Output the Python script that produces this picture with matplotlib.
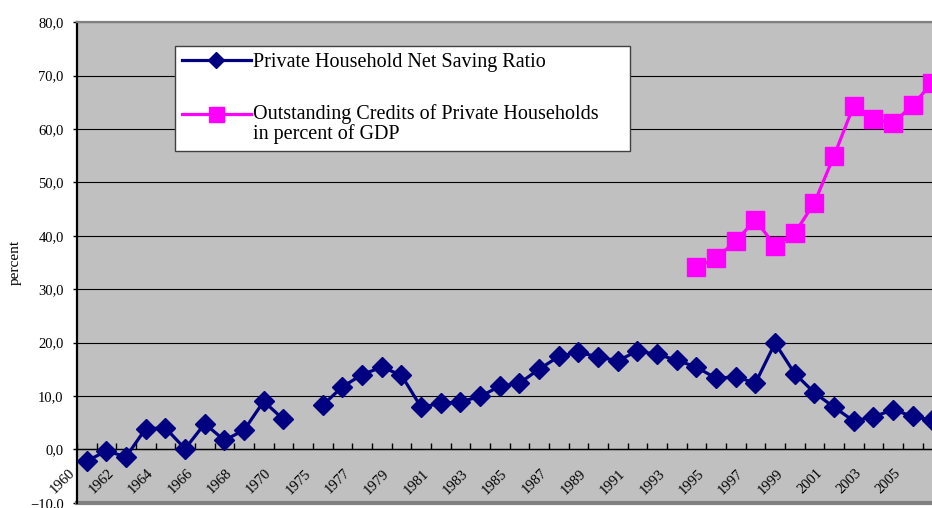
# private household saving ratio vs. outstanding credits, category axis like the Excel original
import numpy as np
import matplotlib
matplotlib.use("Agg")
import matplotlib.pyplot as plt
from matplotlib.lines import Line2D
from matplotlib.ticker import FuncFormatter
from matplotlib.transforms import ScaledTranslation

# categories (one blank slot between 1970 and 1975, as in the source sheet)
years = [str(y) for y in range(1960, 1971)] + [""] + [str(y) for y in range(1975, 2007)]

saving_ratio = [-2.2, -0.3, -1.4, 3.9, 4.0, 0.1, 4.8, 1.7, 3.6, 9.0, 5.6, np.nan,
                8.3, 11.7, 14.0, 15.4, 13.9, 7.9, 8.6, 8.9, 9.9, 11.8, 12.4, 15.0,
                17.4, 18.2, 17.3, 16.6, 18.4, 17.8, 16.7, 15.4, 13.3, 13.6, 12.4, 19.9,
                14.2, 10.6, 7.9, 5.3, 6.1, 7.4, 6.2, 5.4]

credits_gdp = [np.nan] * 31 + [34.1, 35.8, 39.0, 43.0, 38.1, 40.5, 46.2, 55.0,
                               64.4, 61.9, 61.1, 64.5, 68.7]

label_saving = "Private Household Net Saving Ratio"
label_credits = "Outstanding Credits of Private Households\nin percent of GDP"

plt.rcParams["font.family"] = ["Liberation Serif", "DejaVu Serif"]

fig = plt.figure(figsize=(9.32, 5.08), dpi=100)
ax = fig.add_axes([76.9 / 932, 5.3 / 508, 1 - 76.9 / 932, (502.7 - 22.3) / 508])
ax.set_facecolor("#C0C0C0")

x = np.arange(len(years))
ax.plot(x, saving_ratio, color="#000080", lw=2.3, marker="D", ms=10.5,
        mec="#000080", label=label_saving, zorder=3)
ax.plot(x, credits_gdp, color="#FF00FF", lw=2.3, marker="s", ms=13.5,
        mec="#FF00FF", label=label_credits, zorder=3)

# y axis
ax.set_yticks(np.arange(-10, 81, 10))
ax.yaxis.set_major_formatter(FuncFormatter(lambda v, p: f"{v:.1f}".replace(".", ",").replace("-", "\u2212")))
ax.tick_params(axis="y", direction="out", length=3, width=1, pad=6.5, labelsize=10.5)
ax.yaxis.grid(True, color="black", lw=0.8)
ax.set_axisbelow(True)
ax.set_ylabel("percent", fontsize=11)
ax.yaxis.set_label_coords(-55 / 855, 0.5)

# x axis crosses at 0
ax.spines["bottom"].set_position(("data", 0))
ax.spines["bottom"].set_color("black")
ax.spines["bottom"].set_linewidth(1)
ax.set_xticks(x[::2], years[::2], rotation=45, ha="right", va="center", rotation_mode="anchor")
ax.set_xticks(np.arange(-0.5, len(years), 1), minor=True)
ax.tick_params(axis="x", which="major", length=0, pad=15.8, labelsize=10.5)
ax.tick_params(axis="x", which="minor", direction="in", length=4, width=1)
shift = ScaledTranslation(-0.14, 0, fig.dpi_scale_trans)
for lbl in ax.get_xticklabels():
    lbl.set_transform(lbl.get_transform() + shift)

# limits after the ticks, set_xticks widens the view otherwise
ax.set_xlim(-0.5, 42.98)
ax.set_ylim(-10, 80)

# plot area frame
ax.spines["left"].set_color("black")
ax.spines["left"].set_linewidth(1.6)
ax.spines["top"].set_color("#808080")
ax.spines["top"].set_linewidth(1.6)
ax.spines["right"].set_visible(False)
ax.plot([0, 1], [0, 0], transform=ax.transAxes, color="#808080", lw=3, clip_on=False)

leg = ax.legend(loc="upper left", bbox_to_anchor=(175 / 932, 1 - 46 / 508, (630 - 175) / 932, 0),
                bbox_transform=fig.transFigure, mode="expand", borderaxespad=0,
                fontsize=14.5, handlelength=3.4, handletextpad=0.1, labelspacing=1.6,
                borderpad=0.35, markerscale=0.8, fancybox=False, framealpha=1)
leg.get_frame().set_edgecolor("#404040")
leg.get_frame().set_linewidth(1)
leg.get_texts()[1].set_linespacing(1.0)
# put the magenta handle next to the first line of its two-line label
up = ScaledTranslation(0, 0.1, fig.dpi_scale_trans)
for ln in leg.findobj(Line2D):
    if ln.get_color() == "#FF00FF":
        ln.set_transform(ln.get_transform() + up)

fig.savefig("out.png", dpi=100)
